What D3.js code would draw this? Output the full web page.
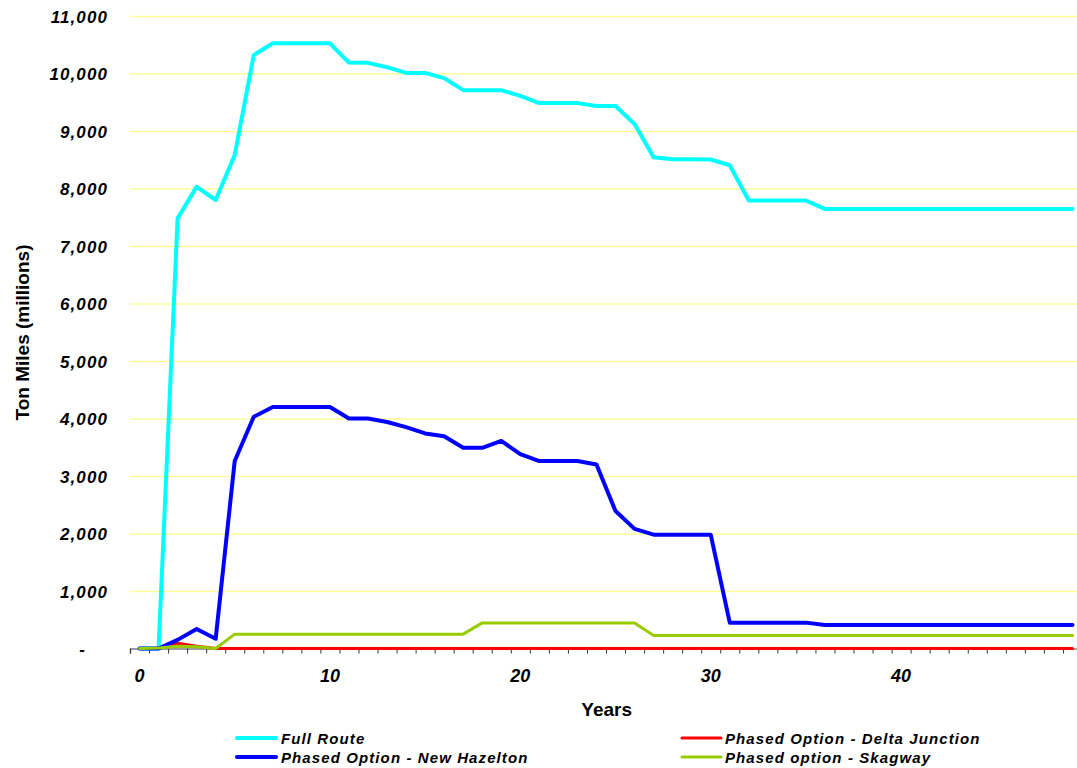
<!DOCTYPE html>
<html>
<head>
<meta charset="utf-8">
<script src="https://cdn.jsdelivr.net/npm/d3@7"></script>
<style>
  html, body { margin: 0; padding: 0; background: #fff; }
  svg { display: block; }
  text { font-family: "Liberation Sans", Arial, sans-serif; fill: #000; }
</style>
</head>
<body>
<svg id="chart" width="1077" height="768"></svg>
<script>
// ---- Data ----
const years = d3.range(0, 50);
const fullRoute = [0, 0, 7480, 8030, 7800, 8580, 10320, 10525, 10525, 10525,
  10525, 10190, 10185, 10110, 10010, 10010, 9920, 9710, 9710, 9710,
  9610, 9485, 9485, 9485, 9435, 9435, 9120, 8545, 8510, 8510,
  8505, 8405, 7790, 7790, 7790, 7790, 7645, 7645, 7645, 7645,
  7645, 7645, 7645, 7645, 7645, 7645, 7645, 7645, 7645, 7645];
const deltaJunction = [0, 0, 90, 40, 0, 0, 0, 0, 0, 0,
  0, 0, 0, 0, 0, 0, 0, 0, 0, 0,
  0, 0, 0, 0, 0, 0, 0, 0, 0, 0,
  0, 0, 0, 0, 0, 0, 0, 0, 0, 0,
  0, 0, 0, 0, 0, 0, 0, 0, 0, 0];
const newHazelton = [0, 0, 150, 340, 170, 3260, 4030, 4200, 4200, 4200,
  4200, 4000, 4000, 3940, 3850, 3740, 3690, 3490, 3490, 3610,
  3380, 3260, 3260, 3260, 3200, 2390, 2080, 1980, 1980, 1980,
  1980, 450, 450, 450, 450, 450, 410, 410, 410, 410,
  410, 410, 410, 410, 410, 410, 410, 410, 410, 410];
const skagway = [0, 10, 40, 30, 0, 250, 250, 250, 250, 250,
  250, 250, 250, 250, 250, 250, 250, 250, 445, 445,
  445, 445, 445, 445, 445, 445, 445, 225, 225, 225,
  225, 225, 225, 225, 225, 225, 225, 225, 225, 225,
  225, 225, 225, 225, 225, 225, 225, 225, 225, 225];
const yTicks = [0, 1000, 2000, 3000, 4000, 5000, 6000, 7000, 8000, 9000, 10000, 11000];
const xLabelYears = [0, 10, 20, 30, 40];
const seriesNames = ["Full Route", "Phased Option - Delta Junction", "Phased Option - New Hazelton", "Phased option - Skagway"];
const seriesColors = ["#00FFFF", "#FF0000", "#0000FF", "#99CC00"];
const seriesWidths = [4, 3, 4, 3];
const seriesValues = [fullRoute, deltaJunction, newHazelton, skagway];

// ---- Layout ----
const svg = d3.select("#chart");
const plotLeft = 130, plotRight = 1082, plotTop = 16, plotBottom = 648.5;

const x = d3.scaleBand().domain(years).range([plotLeft, plotRight]).paddingInner(0).paddingOuter(0);
const xBound = d3.scaleLinear().domain([0, years.length]).range([plotLeft, plotRight]);
const y = d3.scaleLinear().domain([0, 11000]).range([plotBottom, plotTop]);

// gridlines
const grid = svg.append("g")
  .attr("transform", `translate(${plotLeft},0)`)
  .call(d3.axisLeft(y).tickValues(yTicks.filter(d => d > 0)).tickSize(-(1077 - plotLeft)).tickFormat(""));
grid.select(".domain").remove();
grid.selectAll("line").attr("stroke", "#FFFF99").attr("stroke-width", 1.3);

// y tick labels
const yAx = svg.append("g")
  .attr("transform", `translate(${plotLeft},0)`)
  .call(d3.axisLeft(y).tickValues(yTicks).tickSize(0).tickPadding(0)
    .tickFormat(d => d === 0 ? "-" : d3.format(",")(d)));
yAx.select(".domain").remove();
yAx.selectAll("text")
  .attr("x", d => d === 0 ? -44 : -22)
  .attr("dy", "0.36em")
  .style("font-size", "17px").style("font-weight", "bold").style("font-style", "italic")
  .style("letter-spacing", "1.1px")
  .attr("text-anchor", "end").attr("fill", "#000");

// x axis ticks at category boundaries
const xTickAx = svg.append("g")
  .attr("transform", `translate(0,${plotBottom})`)
  .call(d3.axisBottom(xBound).tickValues(d3.range(0, years.length + 1)).tickSize(5).tickFormat(""));
xTickAx.select(".domain").attr("stroke", "#808080").attr("stroke-width", 1.5);
xTickAx.selectAll(".tick line").attr("stroke", "#333").attr("stroke-width", 1);

// x labels at category centers
const xLab = svg.append("g")
  .attr("transform", `translate(0,${plotBottom})`)
  .call(d3.axisBottom(x).tickValues(xLabelYears).tickSize(0).tickPadding(0));
xLab.select(".domain").remove();
xLab.selectAll("text")
  .attr("y", 33).attr("dy", 0)
  .style("font-size", "18px").style("font-weight", "bold").style("font-style", "italic")
  .attr("fill", "#000");

// lines
const line = d3.line()
  .x((d, i) => x(years[i]) + x.bandwidth() / 2)
  .y(d => y(d));
seriesValues.forEach((vals, k) => {
  svg.append("path")
    .datum(vals)
    .attr("d", line)
    .attr("fill", "none")
    .attr("stroke", seriesColors[k])
    .attr("stroke-width", seriesWidths[k])
    .attr("stroke-linejoin", "round")
    .attr("stroke-linecap", "round");
});

// axis titles
svg.append("text")
  .attr("transform", "translate(29,332.5) rotate(-90)")
  .attr("text-anchor", "middle")
  .style("font-size", "19px").style("font-weight", "bold")
  .text("Ton Miles (millions)");
svg.append("text")
  .attr("x", 606.7).attr("y", 716)
  .attr("text-anchor", "middle")
  .style("font-size", "19px").style("font-weight", "bold")
  .text("Years");

// legend (2 columns, row-wise)
const legPos = [
  { sx: 237, tx: 281, y: 738 },
  { sx: 682, tx: 725, y: 738 },
  { sx: 237, tx: 281, y: 757 },
  { sx: 682, tx: 725, y: 757 }
];
seriesNames.forEach((name, k) => {
  const p = legPos[k];
  svg.append("line")
    .attr("x1", p.sx).attr("x2", p.sx + 39)
    .attr("y1", p.y).attr("y2", p.y)
    .attr("stroke", seriesColors[k])
    .attr("stroke-width", seriesWidths[k])
    .attr("stroke-linecap", "round");
  svg.append("text")
    .attr("x", p.tx).attr("y", p.y + 5.5)
    .style("font-size", "15px").style("font-weight", "bold").style("font-style", "italic")
    .style("letter-spacing", "1.1px")
    .text(name);
});
</script>
</body>
</html>
